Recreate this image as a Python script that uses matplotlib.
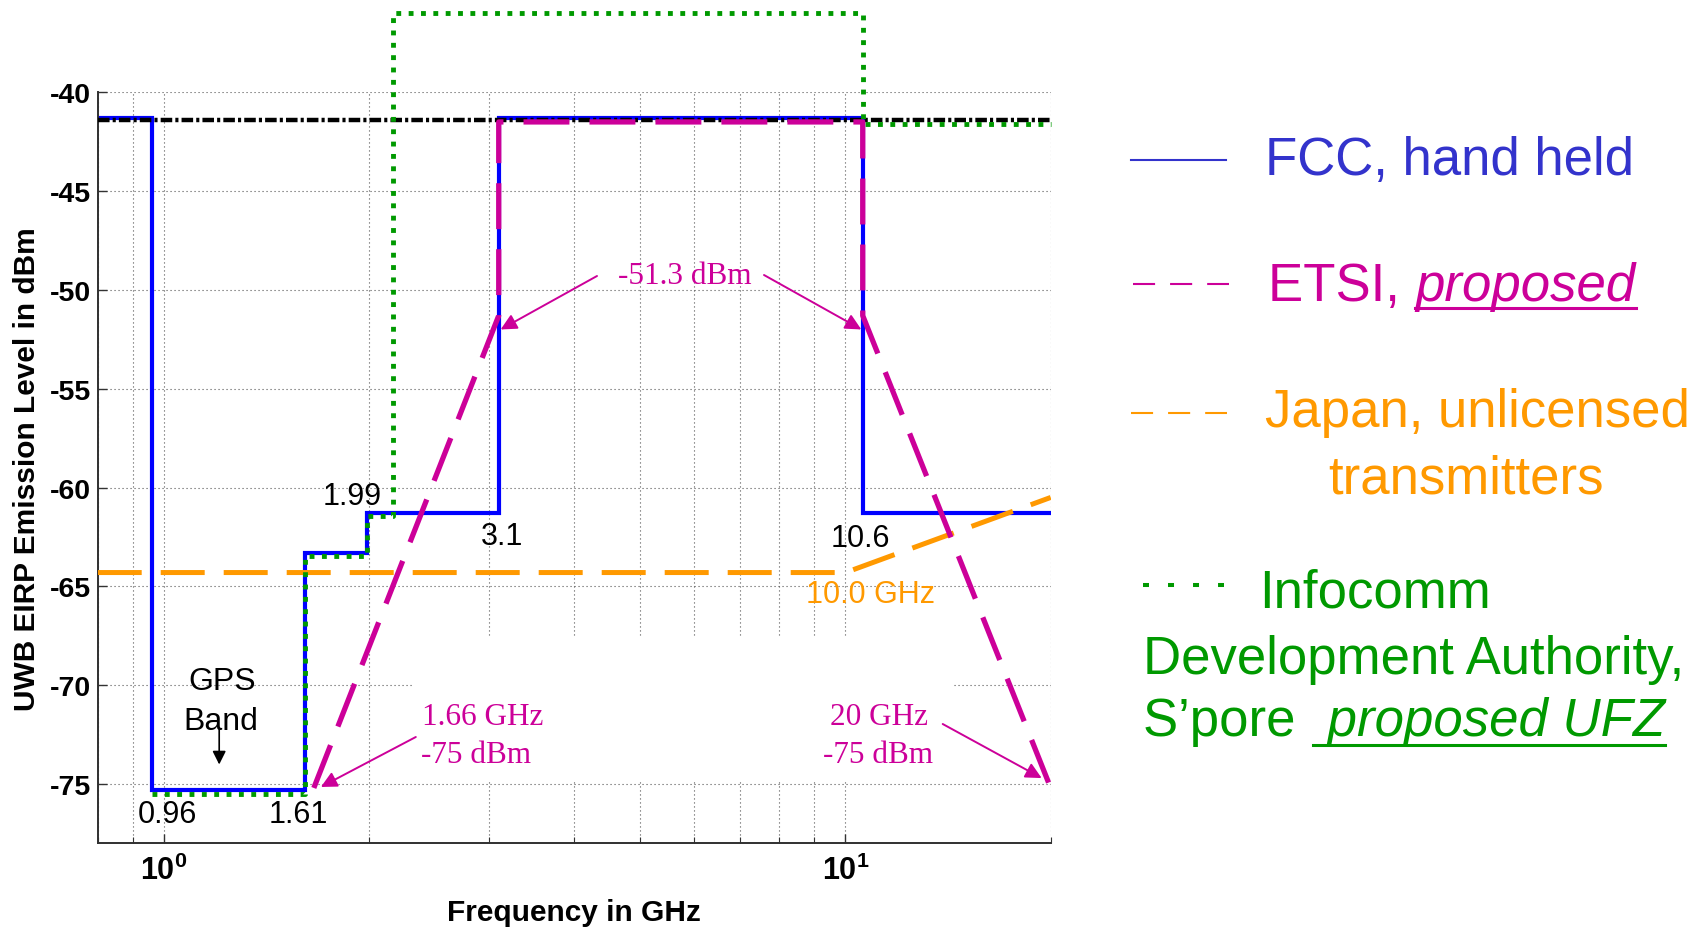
import matplotlib
matplotlib.use('Agg')
import matplotlib.pyplot as plt
from matplotlib.lines import Line2D
from matplotlib.patches import Rectangle
from matplotlib.ticker import LogLocator, NullFormatter, FixedLocator

plt.rcParams['font.family'] = ['Liberation Sans', 'DejaVu Sans']
plt.rcParams['axes.unicode_minus'] = False
plt.rcParams['mathtext.fontset'] = 'custom'
plt.rcParams['mathtext.rm'] = 'Liberation Sans'
plt.rcParams['mathtext.it'] = 'Liberation Sans:italic'
plt.rcParams['mathtext.bf'] = 'Liberation Sans:bold'

W, H = 1708, 929

# ---------------- data ----------------
fcc_freq = [0.8, 0.96, 0.96, 1.61, 1.61, 1.99, 1.99, 3.1, 3.1, 10.6, 10.6, 20]
fcc_level = [-41.3, -41.3, -75.3, -75.3, -63.3, -63.3, -61.3, -61.3, -41.3, -41.3, -61.3, -61.3]

etsi_freq = [1.66, 3.1, 3.1, 10.6, 10.6, 20]
etsi_level = [-75.2, -51.3, -41.5, -41.5, -51.3, -75.2]

japan_freq = [0.8, 10.0, 20]
japan_level = [-64.3, -64.3, -60.5]

ida_freq = [0.96, 1.61, 1.61, 1.99, 1.99, 2.17, 2.17, 10.6, 10.6, 20]
ida_level = [-75.5, -75.5, -63.45, -63.45, -61.45, -61.45, -36.0, -36.0, -41.6, -41.6]

ref_freq = [0.8, 20]
ref_level = [-41.4, -41.4]

x_limits = (0.8, 20)
y_limits = (-78, -40)
y_ticks = [-75, -70, -65, -60, -55, -50, -45, -40]
x_major = [1, 10]
x_major_labels = [r'$\mathbf{10^{0}}$', r'$\mathbf{10^{1}}$']

BLUE = '#0000ff'
MAG = '#cc0099'
ORANGE = '#ff9900'
GREEN = '#009900'
LEG_BLUE = '#3333cc'


def fx(x):
    return x / W


def fy(y):
    return 1 - y / H


fig = plt.figure(figsize=(W / 100, H / 100), dpi=100)
ax_l, ax_r, ax_t, ax_b = 97.7, 1050.7, 93.3, 844.3
ax = fig.add_axes([fx(ax_l), fy(ax_b), (ax_r - ax_l) / W, (ax_b - ax_t) / H])

ax.set_xscale('log')
ax.set_xlim(*x_limits)
ax.set_ylim(*y_limits)
ax.set_axisbelow(True)

ax.xaxis.set_major_locator(FixedLocator(x_major))
ax.set_xticklabels(x_major_labels)
ax.xaxis.set_minor_locator(LogLocator(base=10, subs=range(2, 10)))
ax.xaxis.set_minor_formatter(NullFormatter())
ax.set_yticks(y_ticks)
for lab in ax.get_yticklabels():
    lab.set_fontweight('bold')

ax.tick_params(axis='both', which='major', direction='in', length=6.5, width=1.0,
               color='#333333')
ax.tick_params(axis='y', labelsize=20.5, pad=5)
ax.tick_params(axis='x', labelsize=22, pad=8)
ax.tick_params(axis='x', which='minor', direction='in', length=4, width=0.8, color='#333333')

grid_kw = dict(color='#555555', lw=0.8, dashes=(1, 2.6))
ax.grid(True, which='major', axis='both', **grid_kw)
ax.grid(True, which='minor', axis='x', **grid_kw)

for s in ['top', 'right']:
    ax.spines[s].set_visible(False)
for s in ['left', 'bottom']:
    ax.spines[s].set_color('#303030')
    ax.spines[s].set_linewidth(1.4)

# white box hiding grid behind lower annotations
ax.add_patch(Rectangle((fx(411.7), fy(781.7)), (953.3 - 411.7) / W, (781.7 - 639.3) / H,
                       transform=fig.transFigure, facecolor='white', edgecolor='none', zorder=1))

# ---------------- lines ----------------
ax.plot(fcc_freq, fcc_level, color=BLUE, lw=3.0, zorder=2, solid_joinstyle='miter')
ax.plot(ref_freq, ref_level, color='black', lw=3.2, dashes=(2.6, 0.7, 0.7, 0.7), zorder=3)
ax.plot(japan_freq, japan_level, color=ORANGE, lw=3.6, dashes=(8.8, 3.8), zorder=3.5)
ax.plot(etsi_freq, etsi_level, color=MAG, lw=3.8, dashes=(8.7, 3.8), zorder=4)
ax.plot(ida_freq, ida_level, color=GREEN, lw=3.5, dashes=(1, 1.54), zorder=5, clip_on=False)

# ---------------- annotations inside plot ----------------
num_kw = dict(fontsize=22, color='black', family=['Liberation Sans', 'DejaVu Sans'])
fig.text(fx(352), fy(505), '1.99', ha='center', va='baseline', **num_kw)
fig.text(fx(502), fy(545), '3.1', ha='center', va='baseline', **num_kw)
fig.text(fx(860), fy(546.7), '10.6', ha='center', va='baseline', **num_kw)
fig.text(fx(167), fy(823.2), '0.96', ha='center', va='baseline', **num_kw)
fig.text(fx(298.5), fy(823.2), '1.61', ha='center', va='baseline', **num_kw)
fig.text(fx(222), fy(690.4), 'GPS', ha='center', va='baseline', fontsize=23, color='black')
fig.text(fx(221), fy(729.8), 'Band', ha='center', va='baseline', fontsize=23, color='black')
fig.text(fx(806), fy(603.3), '10.0 GHz', ha='left', va='baseline', fontsize=22, color=ORANGE)

ax.annotate('', xy=(219.2, H - 765.5), xycoords='figure pixels',
            xytext=(219.2, H - 729.8), textcoords='figure pixels',
            arrowprops=dict(arrowstyle='-|>', color='black', lw=1.2,
                            mutation_scale=20, shrinkA=0, shrinkB=0), zorder=6)

serif = ['Liberation Serif', 'DejaVu Serif']
fig.text(fx(684.7), fy(283.7), '-51.3 dBm', ha='center', va='baseline', fontsize=22.5,
         color=MAG, family=serif)
fig.text(fx(421.7), fy(725), '1.66 GHz', ha='left', va='baseline', fontsize=22.5,
         color=MAG, family=serif)
fig.text(fx(420.7), fy(763.3), '-75 dBm', ha='left', va='baseline', fontsize=22.5,
         color=MAG, family=serif)
fig.text(fx(879.5), fy(725), '20 GHz', ha='center', va='baseline', fontsize=22.5,
         color=MAG, family=serif)
fig.text(fx(878.3), fy(763.3), '-75 dBm', ha='center', va='baseline', fontsize=22.5,
         color=MAG, family=serif)

arrow_kw = dict(arrowstyle='-|>', color=MAG, lw=1.4, mutation_scale=24, shrinkA=0, shrinkB=0)
ax.annotate('', xy=(3.12, -52.0), xycoords='data', xytext=(597, H - 277),
            textcoords='figure pixels', arrowprops=arrow_kw, zorder=6)
ax.annotate('', xy=(10.55, -52.0), xycoords='data', xytext=(764, H - 276),
            textcoords='figure pixels', arrowprops=arrow_kw, zorder=6)
ax.annotate('', xy=(1.70, -75.15), xycoords='data', xytext=(415.8, H - 738),
            textcoords='figure pixels', arrowprops=arrow_kw, zorder=6)
ax.annotate('', xy=(19.4, -74.7), xycoords='data', xytext=(942.7, H - 725),
            textcoords='figure pixels', arrowprops=arrow_kw, zorder=6)

# ---------------- axis labels ----------------
fig.text(fx(574), fy(913), 'Frequency in GHz', ha='center', va='center', fontsize=21.5,
         fontweight='bold')
fig.text(fx(27), fy(469), 'UWB EIRP Emission Level in dBm', ha='center', va='center',
         fontsize=21.5, fontweight='bold', rotation=90)

# ---------------- custom legend ----------------
LFS = 38


def fline(x0, x1, y, **kw):
    fig.add_artist(Line2D([fx(x0), fx(x1)], [fy(y), fy(y)], transform=fig.transFigure, **kw))


fline(1130.6, 1226.2, 160.9, color=LEG_BLUE, lw=1.5)
fig.text(fx(1264.6), fy(175.5), 'FCC, hand held', ha='left', va='baseline', fontsize=LFS,
         color=LEG_BLUE)

fline(1133.3, 1228.5, 285.3, color=MAG, lw=1.5, dashes=(10.6, 7.2))
fig.text(fx(1268.5), fy(301.1), 'ETSI, ', ha='left', va='baseline', fontsize=LFS, color=MAG)
t_prop = fig.text(fx(1415.4), fy(301.1), 'proposed', ha='left', va='baseline', fontsize=LFS,
                  color=MAG, style='italic')

fline(1131, 1227, 413.8, color=ORANGE, lw=1.5, dashes=(10.6, 7.2))
fig.text(fx(1265.4), fy(427.5), 'Japan, unlicensed', ha='left', va='baseline', fontsize=LFS,
         color=ORANGE)
fig.text(fx(1466), fy(493.9), 'transmitters', ha='center', va='baseline', fontsize=LFS,
         color=ORANGE)

fline(1143, 1224, 585.9, color=GREEN, lw=2.9, dashes=(1.49, 4.72))
fig.text(fx(1258.7), fy(607.9), 'Infocomm', ha='left', va='baseline', fontsize=LFS, color=GREEN)
fig.text(fx(1143), fy(674.2), 'Development Authority,', ha='left', va='baseline', fontsize=LFS,
         color=GREEN)
fig.text(fx(1143), fy(736.4), 'S\u2019pore ', ha='left', va='baseline', fontsize=LFS, color=GREEN)
t_ufz = fig.text(fx(1312.8), fy(736.4), ' proposed UFZ', ha='left', va='baseline', fontsize=LFS,
                 color=GREEN, style='italic')

renderer = fig.canvas.get_renderer()
e1 = t_prop.get_window_extent(renderer)
fline(1415.4, e1.x1, 308.5, color=MAG, lw=2.2)
e2 = t_ufz.get_window_extent(renderer)
fline(1312.8, e2.x1, 746, color=GREEN, lw=2.2)

fig.savefig('out.png', dpi=100, facecolor='white')
